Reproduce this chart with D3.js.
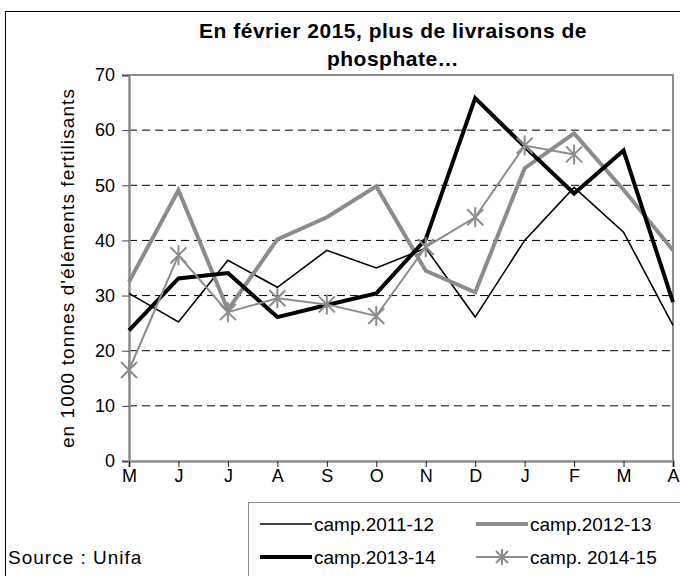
<!DOCTYPE html>
<html>
<head>
<meta charset="utf-8">
<script src="https://cdn.jsdelivr.net/npm/d3@7"></script>
<style>
  body { margin: 0; background: #fff; }
  text { font-family: "Liberation Sans", Arial, sans-serif; fill: #000; }
</style>
</head>
<body>
<div id="chart"></div>
<script>
// months of the campaign (May -> April)
const months = ["M", "J", "J", "A", "S", "O", "N", "D", "J", "F", "M", "A"];
const yTicks = [0, 10, 20, 30, 40, 50, 60, 70];

// deliveries, in 1000 t of fertilising elements
const camp2011 = [30.4, 25.2, 36.4, 31.5, 38.2, 35.0, 38.6, 26.1, 40.0, 49.6, 41.5, 24.6];
const camp2012 = [32.5, 49.1, 27.4, 40.2, 44.2, 49.8, 34.5, 30.6, 53.1, 59.4, 49.2, 38.2];
const camp2013 = [23.7, 33.1, 34.1, 26.1, 28.3, 30.4, 40.2, 65.8, 57.0, 48.5, 56.3, 28.8];
const camp2014 = [16.5, 37.3, 27.0, 29.5, 28.4, 26.3, 38.8, 44.2, 57.2, 55.6, null, null];

const seriesNames = ["camp.2011-12", "camp.2012-13", "camp.2013-14", "camp. 2014-15"];

let series = [
    {name: seriesNames[0], values: camp2011, color: "#000", width: 1.6, marker: false},
    {name: seriesNames[1], values: camp2012, color: "#8c8c8c", width: 4, marker: false},
    {name: seriesNames[2], values: camp2013, color: "#000", width: 4, marker: false},
    {name: seriesNames[3], values: camp2014, color: "#8c8c8c", width: 2, marker: true}
];

let W = 680, H = 576;
let margin = {top: 75, left: 129, right: 7, bottom: 115};

let svg = d3.select("#chart")
    .append("svg")
    .attr("width", W)
    .attr("height", H);

// outer frame of the chart object (runs off the picture on right and bottom)
svg.append("rect")
    .attr("x", 5.5).attr("y", 11.5)
    .attr("width", 700).attr("height", 600)
    .attr("fill", "none")
    .attr("stroke", "#000")
    .attr("stroke-width", 1);

let x = d3.scalePoint()
    .domain(d3.range(months.length))
    .range([margin.left, W - margin.right]);

let y = d3.scaleLinear()
    .domain([0, 70])
    .range([H - margin.bottom, margin.top]);

// dashed gridlines
svg.append("g")
    .selectAll("line")
    .data(yTicks.filter(d => d > 0 && d < 70))
    .join("line")
    .attr("x1", x.range()[0])
    .attr("x2", x.range()[1])
    .attr("y1", d => y(d))
    .attr("y2", d => y(d))
    .attr("stroke", "#000")
    .attr("stroke-width", 1)
    .attr("stroke-dasharray", "8,5");

// plot area top and right border
svg.append("path")
    .attr("d", `M${x.range()[0]},${y(70)}H${x.range()[1]}V${y(0)}`)
    .attr("fill", "none")
    .attr("stroke", "#8c8c8c")
    .attr("stroke-width", 2);

// y axis
let yAxis = svg.append("g")
    .attr("transform", `translate(${margin.left}, 0)`)
    .call(d3.axisLeft(y).tickValues(yTicks).tickSize(7).tickPadding(7));
yAxis.select(".domain").attr("stroke", "#8c8c8c").attr("stroke-width", 2.5);
yAxis.selectAll(".tick line").attr("stroke", "#444");
yAxis.selectAll("text").style("font-size", "18px").attr("fill", "#000");

// x axis
let xAxis = svg.append("g")
    .attr("transform", `translate(0, ${y(0)})`)
    .call(d3.axisBottom(x).tickFormat(i => months[i]).tickSize(6).tickPadding(2));
xAxis.select(".domain").attr("stroke", "#8c8c8c").attr("stroke-width", 2.5);
xAxis.selectAll(".tick line").attr("stroke", "#222");
xAxis.selectAll("text").style("font-size", "18px").attr("fill", "#000");

// y label
svg.append("text")
    .attr("transform", `translate(74, ${(y(0) + y(70)) / 2}) rotate(-90)`)
    .attr("text-anchor", "middle")
    .style("font-size", "19px")
    .style("letter-spacing", "1.1px")
    .text("en 1000 tonnes d'éléments fertilisants");

// title
svg.append("text")
    .attr("x", 393).attr("y", 38)
    .attr("text-anchor", "middle")
    .style("font-size", "21px")
    .style("font-weight", "bold")
    .style("letter-spacing", "0.5px")
    .text("En février 2015, plus de livraisons de");
svg.append("text")
    .attr("x", 393).attr("y", 66)
    .attr("text-anchor", "middle")
    .style("font-size", "21px")
    .style("font-weight", "bold")
    .style("letter-spacing", "0.5px")
    .text("phosphate…");

// lines
let line = d3.line()
    .defined(d => d != null)
    .x((d, i) => x(i))
    .y(d => y(d));

function asterisk(cx, cy, r) {
    return `M${cx - r},${cy - r}L${cx + r},${cy + r}M${cx - r},${cy + r}L${cx + r},${cy - r}` +
        `M${cx},${cy - r - 2}L${cx},${cy + r + 2}`;
}

series.forEach(s => {
    svg.append("path")
        .datum(s.values)
        .attr("d", line)
        .attr("fill", "none")
        .attr("stroke", s.color)
        .attr("stroke-width", s.width)
        .attr("stroke-linejoin", "miter");

    if (s.marker) {
        svg.append("g")
            .selectAll("path")
            .data(s.values.map((v, i) => ({v, i})).filter(d => d.v != null))
            .join("path")
            .attr("d", d => asterisk(x(d.i), y(d.v), 8))
            .attr("stroke", s.color)
            .attr("stroke-width", 2)
            .attr("fill", "none");
    }
});

// legend
let legend = svg.append("g");
legend.append("rect")
    .attr("x", 248.5).attr("y", 502.5)
    .attr("width", 500).attr("height", 120)
    .attr("fill", "#fff")
    .attr("stroke", "#8c8c8c")
    .attr("stroke-width", 1);

let legendPos = [
    {lx: 260, ly: 524}, {lx: 476, ly: 524},
    {lx: 260, ly: 557}, {lx: 476, ly: 557}
];

series.forEach((s, i) => {
    let p = legendPos[i];
    legend.append("line")
        .attr("x1", p.lx).attr("x2", p.lx + 52)
        .attr("y1", p.ly).attr("y2", p.ly)
        .attr("stroke", s.color)
        .attr("stroke-width", s.width);
    if (s.marker) {
        legend.append("path")
            .attr("d", asterisk(p.lx + 26, p.ly, 6))
            .attr("stroke", s.color)
            .attr("stroke-width", 2);
    }
    legend.append("text")
        .attr("x", p.lx + 54)
        .attr("y", p.ly)
        .attr("dy", "0.35em")
        .style("font-size", "19px")
        .text(s.name);
});

// source
svg.append("text")
    .attr("x", 8).attr("y", 564)
    .style("font-size", "19px")
    .style("letter-spacing", "1px")
    .text("Source : Unifa");
</script>
</body>
</html>
